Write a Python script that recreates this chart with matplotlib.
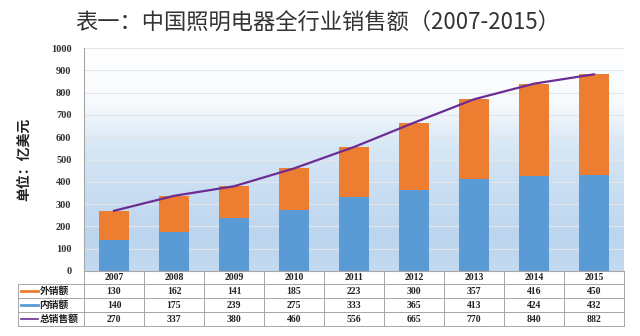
import numpy as np
import matplotlib
matplotlib.use("Agg")
import matplotlib.pyplot as plt
from matplotlib.colors import LinearSegmentedColormap
import matplotlib.transforms as mtransforms

plt.rcParams['font.family'] = ['Noto Sans CJK SC', 'DejaVu Sans']

years = ['2007', '2008', '2009', '2010', '2011', '2012', '2013', '2014', '2015']
export_sales = [130, 162, 141, 185, 223, 300, 357, 416, 450]
domestic_sales = [140, 175, 239, 275, 333, 365, 413, 424, 432]
total_sales = [270, 337, 380, 460, 556, 665, 770, 840, 882]
row_labels = ['外销额', '内销额', '总销售额']

c_orange = '#ED7D31'
c_blue = '#5B9BD5'
c_purple = '#6B2D93'

fig = plt.figure(figsize=(6.4, 3.36), dpi=100)
ax = fig.add_axes([84/640, (336-271)/336, 540/640, 223/336])

x = np.arange(len(years))

# background gradient
cmap = LinearSegmentedColormap.from_list('bg', [(0, '#c3daf0'), (0.15, '#bcd5ee'),
                                                 (0.55, '#d6e6f5'), (0.75, '#f7fafd'),
                                                 (1, '#ffffff')])
grad = np.linspace(0, 1, 256).reshape(-1, 1)
ax.imshow(grad, cmap=cmap, aspect='auto', extent=[0, 1, 0, 1], origin='lower',
          transform=ax.transAxes, zorder=0)

ax.bar(x, domestic_sales, width=0.5, color=c_blue, zorder=2)
ax.bar(x, export_sales, width=0.5, bottom=domestic_sales, color=c_orange, zorder=2)
ax.plot(x, total_sales, color=c_purple, lw=1.6, zorder=3)

ax.set_xlim(-0.5, len(years) - 0.5)
ax.set_ylim(0, 1000)
ax.set_yticks(range(0, 1001, 100))
ax.yaxis.grid(True, color='#e2e6ea', lw=0.8, zorder=1)
ax.set_axisbelow(True)
ax.set_xticks([])
ax.tick_params(axis='y', length=0, labelsize=7.5, pad=9)
for lab in ax.get_yticklabels():
    lab.set_family(['Liberation Serif', 'DejaVu Serif'])
    lab.set_fontweight('bold')
    lab.set_color('#333333')
for s in ['top', 'right']:
    ax.spines[s].set_visible(False)
ax.spines['left'].set_color('#a6a6a6')
ax.spines['bottom'].set_color('#a6a6a6')

ax.set_ylabel('单位：亿美元', fontsize=10, fontweight='bold', labelpad=14, color='#222222')

# data table under the chart
trans = mtransforms.blended_transform_factory(ax.transData, ax.transAxes)
px = 1 / 223
rows_y = [0, -13*px, -27*px, -41*px, -55*px]
left_x = -0.5 - 66/60
right_x = len(years) - 0.5
gc = '#a6a6a6'
for yy in rows_y:
    x0 = -0.5 if yy == 0 else left_x
    ax.plot([x0, right_x], [yy, yy], color=gc, lw=0.7, transform=trans, clip_on=False)
ax.plot([left_x, left_x], [rows_y[1], rows_y[-1]], color=gc, lw=0.7, transform=trans, clip_on=False)
for i in range(len(years) + 1):
    ax.plot([i - 0.5, i - 0.5], [0, rows_y[-1]], color=gc, lw=0.7, transform=trans, clip_on=False)

table_rows = [years, export_sales, domestic_sales, total_sales]
for r, vals in enumerate(table_rows):
    yc = (rows_y[r] + rows_y[r+1]) / 2
    for i, v in enumerate(vals):
        ax.text(i, yc, str(v), ha='center', va='center', fontsize=7, fontweight='bold',
                family=['Liberation Serif', 'DejaVu Serif'], color='#222222',
                transform=trans, clip_on=False)

swatch_colors = [c_orange, c_blue, c_purple]
for r, (lab, col) in enumerate(zip(row_labels, swatch_colors)):
    yc = (rows_y[r+1] + rows_y[r+2]) / 2
    ax.plot([left_x + 0.05, left_x + 0.33], [yc, yc], color=col, lw=2 if r < 2 else 1.2,
            transform=trans, clip_on=False)
    ax.text(left_x + 0.36, yc, lab, ha='left', va='center', fontsize=7, fontweight='bold',
            color='#222222', transform=trans, clip_on=False)

fig.text(0.497, 0.935, '表一：中国照明电器全行业销售额（2007-2015）', ha='center', va='center',
         fontsize=16, color='#333333')

fig.savefig('out.png', dpi=100)
